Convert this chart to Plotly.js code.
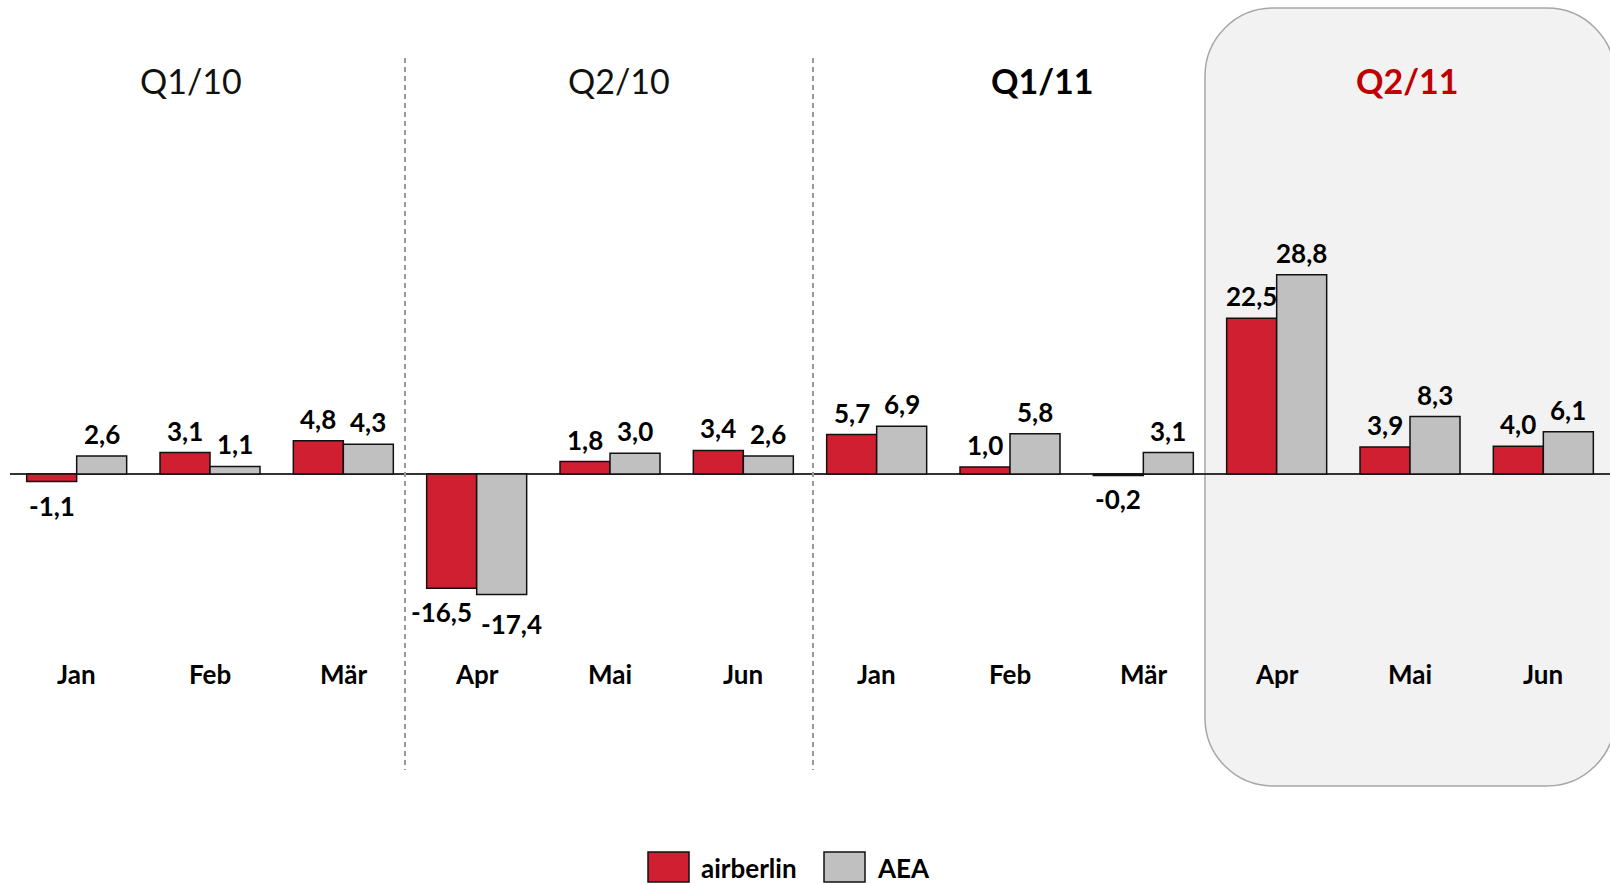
<!DOCTYPE html>
<html>
<head>
<meta charset="utf-8">
<script src="https://cdn.plot.ly/plotly-3.0.1.min.js"></script>
<style>html,body{margin:0;padding:0;background:#fff;}#chart{width:1610px;height:884px;}</style>
</head>
<body>
<div id="chart"></div>
<script>
// ---- data ----
const months = ['Jan','Feb','Mär','Apr','Mai','Jun','Jan','Feb','Mär','Apr','Mai','Jun'];
const years  = ['10','10','10','10','10','10','11','11','11','11','11','11'];
const airberlin = [-1.1, 3.1, 4.8, -16.5, 1.8, 3.4, 5.7, 1.0, -0.2, 22.5, 3.9, 4.0];
const aea       = [2.6, 1.1, 4.3, -17.4, 3.0, 2.6, 6.9, 5.8, 3.1, 28.8, 8.3, 6.1];
const quarters  = ['Q1/10','Q2/10','Q1/11','Q2/11'];
const seriesNames = ['airberlin','AEA'];

// ---- styling ----
const W = 1610, H = 884, ML = 10, MR = 0;
const RED = '#cf1f30', GRAY = '#c0c0c0';
const FONT = 'Lato, "Open Sans", sans-serif';
const px = x => (x - ML) / (W - ML - MR);
const py = y => (H - y) / H;

const xkeys = months.map((m, i) => m + ' ' + years[i]);
const fmt = v => v.toFixed(1).replace('.', ',');

const traces = [
  {type:'bar', name:seriesNames[0], x:xkeys, y:airberlin,
   marker:{color:RED, line:{color:'#111', width:1.5}}, hoverinfo:'skip'},
  {type:'bar', name:seriesNames[1], x:xkeys, y:aea,
   marker:{color:GRAY, line:{color:'#111', width:1.5}}, hoverinfo:'skip'}
];

const annotations = [];
[airberlin, aea].forEach((arr, s) => {
  arr.forEach((v, i) => {
    const other = s === 0 ? aea[i] : airberlin[i];
    // when both bars of a month point down, labels sit side by side: spread them apart
    const crowded = v < 0 && other < 0;
    const base = s === 0 ? -25 : 25;
    annotations.push({
      x: xkeys[i], y: v, xref:'x', yref:'y', showarrow:false,
      xshift: base + (crowded ? (s === 0 ? -10 : 10) : 0),
      yshift: v >= 0 ? 22 : (crowded && s === 1 ? -30 : -24),
      text: fmt(v), font:{family:FONT, size:26, color:'#000', weight:700},
      xanchor:'center', yanchor:'middle'
    });
  });
});
// month labels
months.forEach((m, i) => {
  annotations.push({x: xkeys[i], y: py(674), xref:'x', yref:'paper', showarrow:false,
    text: m, font:{family:FONT, size:26, color:'#000', weight:700}, xanchor:'center', yanchor:'middle'});
});
// quarter labels
const qx = [191, 619, 1042, 1407];
const qStyle = [
  {color:'#111', weight:400}, {color:'#111', weight:400},
  {color:'#000', weight:700}, {color:'#c00000', weight:700}
];
quarters.forEach((q, i) => {
  annotations.push({x: px(qx[i]), y: py(80), xref:'paper', yref:'paper', showarrow:false,
    text: q, font:{family:FONT, size:34, color:qStyle[i].color, weight:qStyle[i].weight},
    xanchor:'center', yanchor:'middle'});
});
// legend text
annotations.push({x: px(699), y: py(868), xref:'paper', yref:'paper', showarrow:false,
  text: seriesNames[0], font:{family:FONT, size:26, color:'#000', weight:700}, xanchor:'left', yanchor:'middle'});
annotations.push({x: px(875), y: py(868), xref:'paper', yref:'paper', showarrow:false,
  text: seriesNames[1], font:{family:FONT, size:26, color:'#000', weight:700}, xanchor:'left', yanchor:'middle'});

// rounded highlight box
function roundRect(l, t, r, b, rad) {
  const k = 0.5523 * rad;
  const P = (x, y) => px(x) + ',' + py(y);
  return 'M' + P(l + rad, t) + ' L' + P(r - rad, t) +
    ' C' + P(r - rad + k, t) + ' ' + P(r, t + rad - k) + ' ' + P(r, t + rad) +
    ' L' + P(r, b - rad) +
    ' C' + P(r, b - rad + k) + ' ' + P(r - rad + k, b) + ' ' + P(r - rad, b) +
    ' L' + P(l + rad, b) +
    ' C' + P(l + rad - k, b) + ' ' + P(l, b - rad + k) + ' ' + P(l, b - rad) +
    ' L' + P(l, t + rad) +
    ' C' + P(l, t + rad - k) + ' ' + P(l + rad - k, t) + ' ' + P(l + rad, t) + ' Z';
}

const shapes = [
  {type:'path', xref:'paper', yref:'paper', layer:'below',
   path: roundRect(1205, 8, 1615, 786, 68),
   fillcolor:'#f2f2f2', line:{color:'#a6a6a6', width:1.5}},
  {type:'line', xref:'paper', yref:'paper', x0:px(405), x1:px(405), y0:py(58), y1:py(770),
   line:{color:'#999999', width:2, dash:'5px,4px'}},
  {type:'line', xref:'paper', yref:'paper', x0:px(813), x1:px(813), y0:py(58), y1:py(770),
   line:{color:'#999999', width:2, dash:'5px,4px'}},
  // legend swatches
  {type:'rect', xref:'paper', yref:'paper', x0:px(648), x1:px(689), y0:py(852), y1:py(882),
   fillcolor:RED, line:{color:'#111', width:1.5}},
  {type:'rect', xref:'paper', yref:'paper', x0:px(824), x1:px(865), y0:py(852), y1:py(882),
   fillcolor:GRAY, line:{color:'#111', width:1.5}}
];

const layout = {
  width:W, height:H,
  margin:{l:ML, r:MR, t:0, b:0, pad:0},
  paper_bgcolor:'#ffffff', plot_bgcolor:'rgba(0,0,0,0)',
  barmode:'group', bargap:0.25, bargroupgap:0,
  showlegend:false,
  xaxis:{type:'category', range:[-0.5, 11.5], showticklabels:false, showgrid:false,
         zeroline:false, showline:false, ticks:'', fixedrange:true},
  yaxis:{range:[-59.25, 68.5], showticklabels:false, showgrid:false, ticks:'',
         zeroline:true, zerolinecolor:'#333', zerolinewidth:1.5, showline:false, fixedrange:true},
  shapes: shapes,
  annotations: annotations,
  font:{family:FONT}
};

Plotly.newPlot('chart', traces, layout, {displayModeBar:false, staticPlot:true});
</script>
</body>
</html>
